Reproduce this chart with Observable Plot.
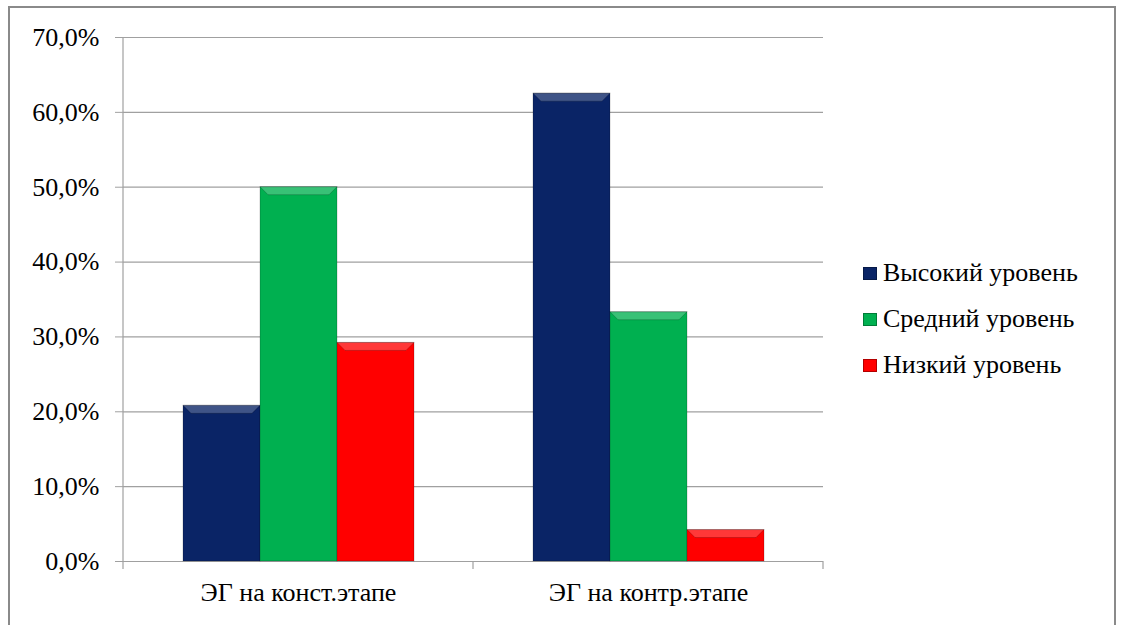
<!DOCTYPE html>
<html>
<head>
<meta charset="utf-8">
<script src="https://cdn.jsdelivr.net/npm/d3@7"></script>
<script src="https://cdn.jsdelivr.net/npm/@observablehq/plot@0.6"></script>
<style>
  html, body { margin: 0; padding: 0; background: #fff; }
  #wrap { position: relative; width: 1121px; height: 625px; overflow: hidden; background: #fff; }
  #border { position: absolute; left: 8px; top: 6px; width: 1108px; height: 640px; border: 2px solid #8a8a8a; box-sizing: border-box; pointer-events: none; }
  #chart { position: absolute; left: 0; top: 0; }
  #legend { position: absolute; left: 863px; top: 250px; font-family: "Liberation Serif", "Tinos", "Noto Serif", "FreeSerif", "Times New Roman", "DejaVu Serif", serif; font-size: 26px; color: #000; }
  .row { display: flex; align-items: center; height: 46px; }
  .sw { width: 14px; height: 13px; margin-right: 6px; box-sizing: border-box; }
  #chart svg text { font-family: "Liberation Serif", "Tinos", "Noto Serif", "FreeSerif", "Times New Roman", "DejaVu Serif", serif; }
</style>
</head>
<body>
<div id="wrap">
  <div id="chart"></div>
  <div id="legend"></div>
  <div id="border"></div>
</div>
<script>
const categories = ["ЭГ на конст.этапе", "ЭГ на контр.этапе"];
const levels = ["Высокий уровень", "Средний уровень", "Низкий уровень"];
const colors = ["#0a2466", "#00b050", "#ff0000"];
const konstValues = [0.208, 0.500, 0.292];
const kontrValues = [0.625, 0.333, 0.042];
const yTicks = [0, 0.1, 0.2, 0.3, 0.4, 0.5, 0.6, 0.7];

const seriesByCat = [konstValues, kontrValues];
const data = [];
categories.forEach((c, ci) => levels.forEach((l, li) => data.push({cat: c, level: l, value: seriesByCat[ci][li]})));

const fmt = d => (d * 100).toFixed(1).replace(".", ",") + "%";
const font = "'Liberation Serif', 'Times New Roman', 'DejaVu Serif', serif";

const plot = Plot.plot({
  width: 1121,
  height: 625,
  marginLeft: 123,
  marginRight: 298,
  marginTop: 37,
  marginBottom: 64,
  style: {fontFamily: font, fontSize: "26px", color: "#000", background: "transparent", overflow: "visible"},
  fx: {domain: categories, padding: 0, label: null, axis: null},
  x: {domain: levels, paddingInner: 0, paddingOuter: 0.77, axis: null},
  y: {domain: [0, 0.7], label: null},
  color: {domain: levels, range: colors},
  marks: [
    Plot.ruleY(yTicks, {stroke: "#a0a0a0", strokeWidth: 1.2}),
    Plot.axisY({ticks: yTicks, tickFormat: fmt, tickSize: 8, tickPadding: 16, stroke: "#a0a0a0", label: null, fontSize: 26}),
    Plot.axisFx({anchor: "bottom", tickSize: 0, tickPadding: 21, label: null, fontSize: 26}),
    Plot.barY(data, {fx: "cat", x: "level", y: "value", fill: "level", stroke: "rgba(0,0,0,0.2)", strokeWidth: 1})
  ]
});
document.getElementById("chart").appendChild(plot);

// axis line and category boundary ticks, positioned via Plot's own scales
const fxS = plot.scale("fx"), yS = plot.scale("y");
const svg = d3.select(plot);
const y0 = yS.apply(0), yTop = yS.apply(0.7);
const x0 = fxS.apply(categories[0]);
const g = svg.append("g").attr("stroke", "#a0a0a0").attr("stroke-width", 1.2);
g.append("line").attr("x1", x0).attr("x2", x0).attr("y1", yTop).attr("y2", y0 + 8);
categories.forEach(c => {
  const xe = fxS.apply(c) + fxS.bandwidth;
  g.append("line").attr("x1", xe).attr("x2", xe).attr("y1", y0).attr("y2", y0 + 8);
});

// bevel highlight on bars
svg.selectAll("rect").each(function() {
  const r = d3.select(this);
  const w = +r.attr("width"), h = +r.attr("height");
  if (!w || !h) return;
  const p = this.parentNode;
  const x = +r.attr("x"), y = +r.attr("y");
  const tr = r.attr("transform");
  const b = Math.min(8, h / 2);
  d3.select(p).append("path")
    .attr("transform", tr)
    .attr("d", `M${x},${y}L${x + w},${y}L${x + w - b},${y + b}L${x + b},${y + b}Z`)
    .attr("fill", "rgba(255,255,255,0.22)");
});

const legend = document.getElementById("legend");
levels.forEach((l, i) => {
  const row = document.createElement("div");
  row.className = "row";
  const sw = document.createElement("div");
  sw.className = "sw";
  sw.style.background = colors[i];
  sw.style.border = "1px solid rgba(0,0,0,0.3)";
  const t = document.createElement("span");
  t.textContent = l;
  row.appendChild(sw); row.appendChild(t);
  legend.appendChild(row);
});
</script>
</body>
</html>
